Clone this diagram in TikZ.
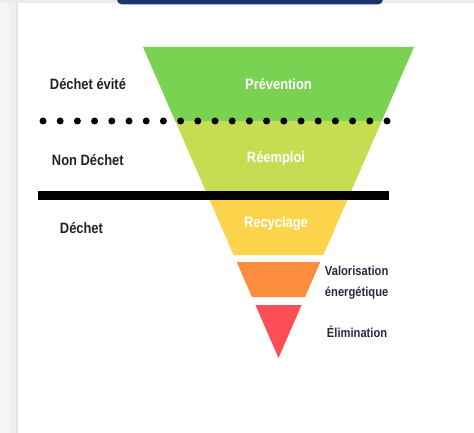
\documentclass[tikz,border=0pt]{standalone}
\usepackage{fontspec}
\setmainfont{Liberation Sans}
\newfontfamily\narrowsans[FakeStretch=0.86]{Liberation Sans}

\begin{document}
\begin{tikzpicture}[x=1pt,y=1pt,yscale=-1,xscale=1,
  sidelbl/.style={anchor=west,inner sep=0.75pt,color={rgb, 255:red, 34; green, 34; blue, 34},font=\narrowsans\fontsize{15}{17}\selectfont\bfseries},
  steplbl/.style={inner sep=0.75pt,color=white,font=\narrowsans\fontsize{15}{17}\selectfont\bfseries},
  endlbl/.style={anchor=west,inner sep=0.75pt,align=left,color={rgb, 255:red, 37; green, 43; blue, 64},font=\narrowsans\fontsize{13}{21}\selectfont\bfseries},
  dotrow/.style={line width=7pt,line cap=round,dash pattern=on 0pt off 17.2pt},
  cutline/.style={line width=8.5pt}
]
\useasboundingbox (0,0) rectangle (474,433);
\clip (0,0) rectangle (474,433);

%Shape: Card background
\fill [color={rgb, 255:red, 236; green, 236; blue, 236 }] (0,0) rectangle (474,3);
\fill [color={rgb, 255:red, 246; green, 246; blue, 246 }] (0,3) rectangle (9,433);
\fill [color={rgb, 255:red, 239; green, 239; blue, 239 }] (9,3) rectangle (16,433);
\fill [color={rgb, 255:red, 228; green, 228; blue, 228 }] (16,3) rectangle (18,433);
%Shape: Tab
\fill [color={rgb, 255:red, 28; green, 51; blue, 112 }, rounded corners=5pt] (117,-10) rectangle (383,4.5);

%Shape: Trapezoid [Prévention]
\fill [color={rgb, 255:red, 121; green, 210; blue, 82 }] (143,47) -- (414,47) -- (381.8,121) -- (175.2,121) -- cycle ;
%Shape: Trapezoid [Réemploi]
\fill [color={rgb, 255:red, 196; green, 221; blue, 82 }] (175.2,121) -- (381.8,121) -- (349.1,196) -- (207.9,196) -- cycle ;
%Shape: Trapezoid [Recyclage]
\fill [color={rgb, 255:red, 252; green, 212; blue, 76 }] (207.9,196) -- (349.1,196) -- (323.4,255) -- (233.6,255) -- cycle ;
%Shape: Trapezoid [Valorisation]
\fill [color={rgb, 255:red, 252; green, 140; blue, 62 }] (236.7,262) -- (320.3,262) -- (305.1,297) -- (251.9,297) -- cycle ;
%Shape: Triangle [Elimination]
\fill [color={rgb, 255:red, 252; green, 78; blue, 86 }] (255.4,305) -- (301.6,305) -- (278.5,358) -- cycle ;

%Straight Lines [separators]
\coordinate (dotL) at (43,121);
\coordinate (dotR) at (387.5,121);
\draw [dotrow] (dotL) -- (dotR) ;
\coordinate (cutL) at (38,195.5);
\coordinate (cutR) at (389,195.5);
\draw [cutline] (cutL) -- (cutR) ;

% Text Node
\node [sidelbl] (evite) at (49,84) {Déchet évité};
% Text Node
\node [sidelbl] (nondechet) at (51,160) {Non Déchet};
% Text Node
\node [sidelbl] (dechet) at (59,228) {Déchet};
% Text Node
\node [steplbl] (prevention) at (278.5,84) {Prévention};
% Text Node
\node [steplbl] (reemploi) at (276,159) {Réemploi};
% Text Node
\node [steplbl] (recyclage) at (276,224) {Recyclage};
% Text Node
\node [endlbl] (valorisation) at (324,282.5) {Valorisation\\énergétique};
% Text Node
\node [endlbl] (elimination) at (326,332) {Élimination};

\end{tikzpicture}
\end{document}
